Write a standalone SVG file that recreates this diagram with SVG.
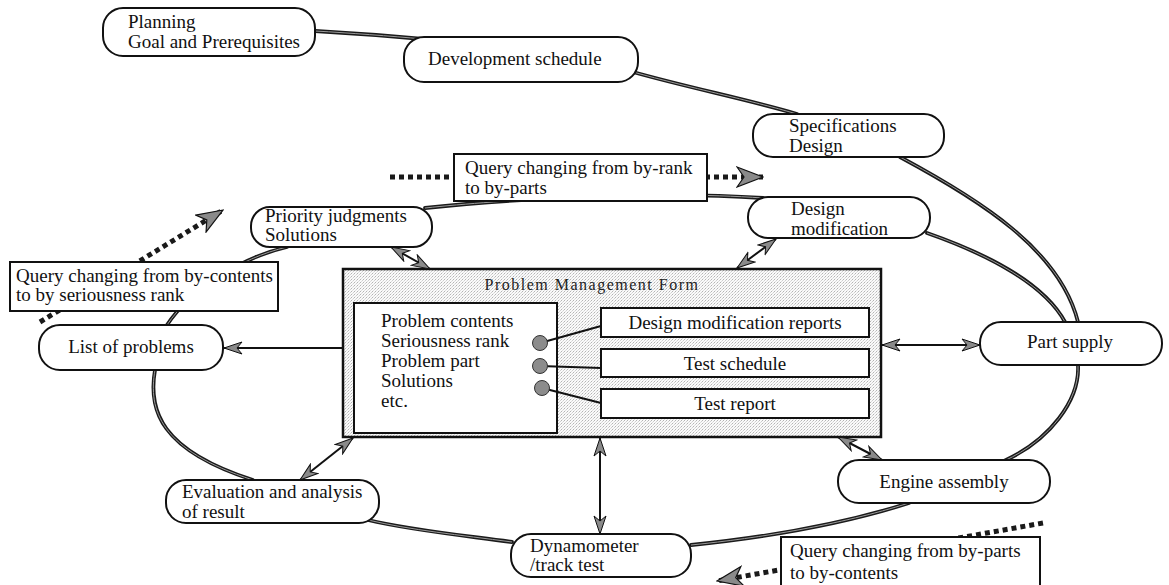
<svg xmlns="http://www.w3.org/2000/svg" width="1169" height="585" viewBox="0 0 1169 585">
  <style>
    .lbl { font-family: "Liberation Serif", "Times New Roman", serif; font-size: 19px; fill: #111; }
    .mid { text-anchor: middle; }
    .node { fill: #fff; stroke: #111; stroke-width: 2; }
    .qbox { fill: #fff; stroke: #111; stroke-width: 2; }
    .loop { fill: none; stroke: #1a1a1a; stroke-width: 3.8; stroke-linecap: round; }
    .loopin { fill: none; stroke: #9a9a9a; stroke-width: 1; }
    .arr { fill: none; stroke: #111; stroke-width: 2; }
    .dot { fill: none; stroke: #1a1a1a; stroke-width: 5; stroke-dasharray: 5 4; }
    .title { font-family: "Liberation Serif", "Times New Roman", serif; font-size: 16px; letter-spacing: 1.5px; fill: #222; }
  </style>
  <defs>
    <pattern id="stipple" width="3" height="3" patternUnits="userSpaceOnUse">
      <rect width="3" height="3" fill="#fafafa"/>
      <rect x="0" y="0" width="1" height="1" fill="#b4b4b4"/>
      <rect x="2" y="1" width="1" height="1" fill="#cfcfcf"/>
      <rect x="1" y="2" width="1" height="1" fill="#dddddd"/>
    </pattern>
    <marker id="ah" viewBox="0 0 20 14" refX="19" refY="7" markerWidth="20" markerHeight="14" markerUnits="userSpaceOnUse" orient="auto-start-reverse">
      <path d="M1,1 L19,7 L1,13 L6,7 Z" fill="#8a8a8a" stroke="#111" stroke-width="1"/>
    </marker>
    <marker id="bh" viewBox="0 0 28 22" refX="27" refY="11" markerWidth="28" markerHeight="22" markerUnits="userSpaceOnUse" orient="auto">
      <path d="M1,1 L27,11 L1,21 L8,11 Z" fill="#8a8a8a" stroke="#111" stroke-width="1.2"/>
    </marker>
  </defs>

  <rect width="1169" height="585" fill="#fff"/>

  <!-- central form -->
  <g id="problem-management-form">
    <rect x="343" y="269" width="538" height="168" fill="url(#stipple)" stroke="#111" stroke-width="2.5"/>
    <text class="title mid" x="592" y="290">Problem Management Form</text>
    <rect x="354" y="303" width="203" height="130" fill="#fff" stroke="#111" stroke-width="2"/>
    <text class="lbl" x="381" y="327">Problem contents</text>
    <text class="lbl" x="381" y="347">Seriousness rank</text>
    <text class="lbl" x="381" y="367">Problem part</text>
    <text class="lbl" x="381" y="387">Solutions</text>
    <text class="lbl" x="381" y="407">etc.</text>
    <g stroke="#111" stroke-width="2">
      <line x1="540" y1="343" x2="601" y2="326"/>
      <line x1="540" y1="366" x2="601" y2="368"/>
      <line x1="542" y1="388" x2="601" y2="403"/>
    </g>
    <g fill="#8c8c8c" stroke="#333" stroke-width="1">
      <circle cx="540" cy="343" r="7.5"/>
      <circle cx="540" cy="366" r="7.5"/>
      <circle cx="542" cy="388" r="7.5"/>
    </g>
    <rect x="601" y="308" width="268" height="29" fill="#fff" stroke="#111" stroke-width="2"/>
    <text class="lbl mid" x="735" y="329">Design modification reports</text>
    <rect x="601" y="349" width="268" height="28" fill="#fff" stroke="#111" stroke-width="2"/>
    <text class="lbl mid" x="735" y="370">Test schedule</text>
    <rect x="601" y="389" width="268" height="29" fill="#fff" stroke="#111" stroke-width="2"/>
    <text class="lbl mid" x="735" y="410">Test report</text>
  </g>

  <g id="connectors">
    <!-- development cycle -->
    <g class="loop">
      <path d="M315,31 C350,33 390,36 423,39"/>
      <path d="M633,72 C690,88 750,100 797,114"/>
      <path d="M900,157 C980,200 1060,250 1078,322"/>
      <path d="M1078,365 C1080,400 1050,440 1004,461"/>
      <path d="M909,503 C840,525 760,538 691,545"/>
      <path d="M512,542 C460,535 410,530 368,520"/>
      <path d="M253,480 C160,450 148,410 155,370"/>
      <path d="M167,325 C190,290 240,258 287,247"/>
      <path d="M425,208 C500,200 650,190 763,198"/>
      <path d="M927,233 C990,255 1045,285 1065,322"/>
    </g>
    <g class="loopin">
      <path d="M315,31 C350,33 390,36 423,39"/>
      <path d="M633,72 C690,88 750,100 797,114"/>
      <path d="M900,157 C980,200 1060,250 1078,322"/>
      <path d="M1078,365 C1080,400 1050,440 1004,461"/>
      <path d="M909,503 C840,525 760,538 691,545"/>
      <path d="M512,542 C460,535 410,530 368,520"/>
      <path d="M253,480 C160,450 148,410 155,370"/>
      <path d="M167,325 C190,290 240,258 287,247"/>
      <path d="M425,208 C500,200 650,190 763,198"/>
      <path d="M927,233 C990,255 1045,285 1065,322"/>
    </g>
    <!-- links to the form -->
    <line class="arr" x1="391" y1="247" x2="430" y2="269" marker-start="url(#ah)" marker-end="url(#ah)"/>
    <line class="arr" x1="776" y1="239" x2="737" y2="268" marker-start="url(#ah)" marker-end="url(#ah)"/>
    <line class="arr" x1="343" y1="348" x2="224" y2="348" marker-end="url(#ah)"/>
    <line class="arr" x1="882" y1="345" x2="980" y2="345" marker-start="url(#ah)" marker-end="url(#ah)"/>
    <line class="arr" x1="838" y1="437" x2="882" y2="460" marker-start="url(#ah)" marker-end="url(#ah)"/>
    <line class="arr" x1="600" y1="438" x2="600" y2="534" marker-start="url(#ah)" marker-end="url(#ah)"/>
    <line class="arr" x1="300" y1="480" x2="353" y2="438" marker-start="url(#ah)" marker-end="url(#ah)"/>
    <!-- query shifts -->
    <line class="dot" x1="390" y1="177" x2="763" y2="177" marker-end="url(#bh)"/>
    <line class="dot" x1="40" y1="322" x2="223" y2="210" marker-end="url(#bh)"/>
    <line class="dot" x1="1043" y1="523" x2="717" y2="581" marker-end="url(#bh)"/>
  </g>

  <g id="planning">
    <rect class="node" x="103" y="8" width="212" height="48" rx="20"/>
    <text class="lbl" x="128" y="28">Planning</text>
    <text class="lbl" x="128" y="48">Goal and Prerequisites</text>
  </g>
  <g id="development-schedule">
    <rect class="node" x="404" y="37" width="234" height="45" rx="20"/>
    <text class="lbl" x="428" y="65">Development schedule</text>
  </g>
  <g id="specifications-design">
    <rect class="node" x="753" y="114" width="191" height="43" rx="20"/>
    <text class="lbl" x="789" y="132">Specifications</text>
    <text class="lbl" x="789" y="152">Design</text>
  </g>
  <g id="query-by-parts">
    <rect class="qbox" x="454" y="154" width="253" height="47"/>
    <text class="lbl" x="465" y="174">Query changing from by-rank</text>
    <text class="lbl" x="465" y="194">to by-parts</text>
  </g>
  <g id="design-modification">
    <rect class="node" x="748" y="197" width="182" height="41" rx="20"/>
    <text class="lbl" x="791" y="215">Design</text>
    <text class="lbl" x="791" y="235">modification</text>
  </g>
  <g id="priority-judgments">
    <rect class="node" x="251" y="207" width="181" height="40" rx="19"/>
    <text class="lbl" x="265" y="222">Priority judgments</text>
    <text class="lbl" x="265" y="241">Solutions</text>
  </g>
  <g id="query-by-rank">
    <rect class="qbox" x="10" y="262" width="268" height="49"/>
    <text class="lbl" x="16" y="282">Query changing from by-contents</text>
    <text class="lbl" x="16" y="301">to by seriousness rank</text>
  </g>
  <g id="list-of-problems">
    <rect class="node" x="39" y="325" width="184" height="45" rx="21"/>
    <text class="lbl mid" x="131" y="353">List of problems</text>
  </g>
  <g id="part-supply">
    <rect class="node" x="980" y="322" width="182" height="43" rx="21"/>
    <text class="lbl mid" x="1070" y="348">Part supply</text>
  </g>
  <g id="engine-assembly">
    <rect class="node" x="838" y="460" width="212" height="43" rx="21"/>
    <text class="lbl mid" x="944" y="488">Engine assembly</text>
  </g>
  <g id="evaluation">
    <rect class="node" x="166" y="480" width="213" height="43" rx="20"/>
    <text class="lbl" x="182" y="498">Evaluation and analysis</text>
    <text class="lbl" x="182" y="518">of result</text>
  </g>
  <g id="dynamometer">
    <rect class="node" x="511" y="534" width="180" height="43" rx="20"/>
    <text class="lbl" x="530" y="552">Dynamometer</text>
    <text class="lbl" x="530" y="571">/track test</text>
  </g>
  <g id="query-by-contents">
    <rect class="qbox" x="781" y="537" width="259" height="56"/>
    <text class="lbl" x="790" y="557">Query changing from by-parts</text>
    <text class="lbl" x="790" y="579">to by-contents</text>
  </g>
</svg>
